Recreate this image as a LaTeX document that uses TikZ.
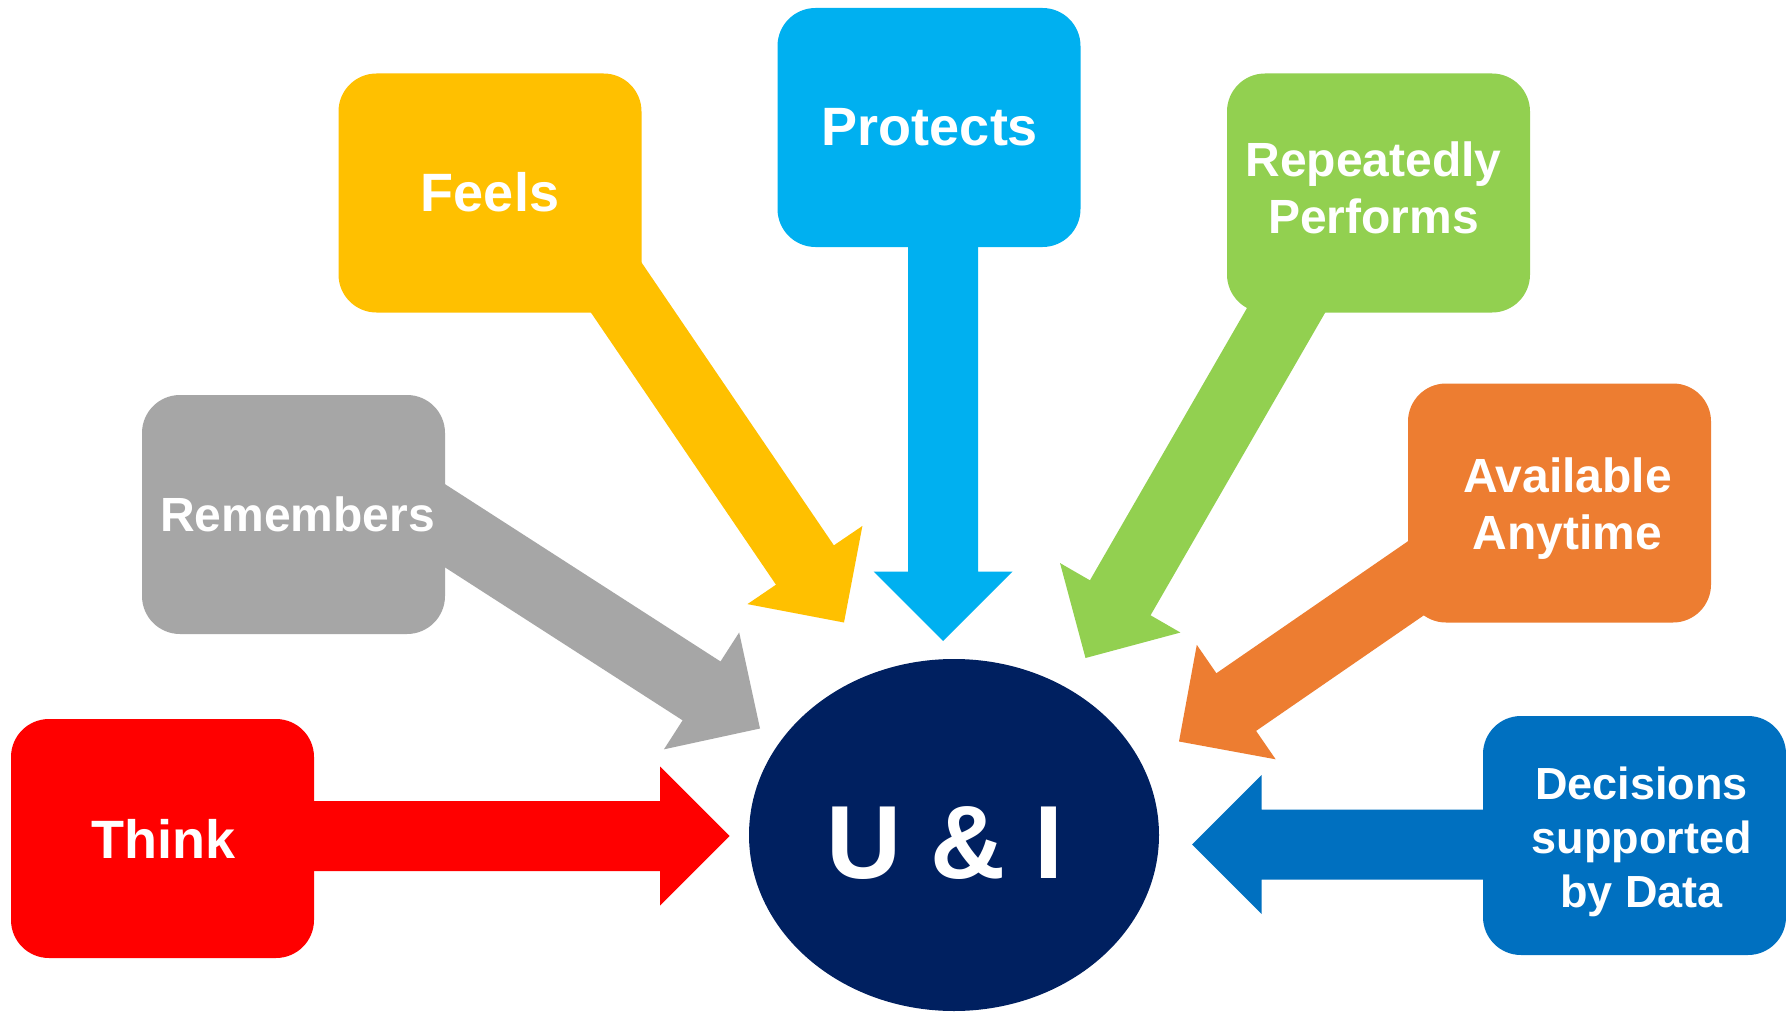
\documentclass[tikz,border=0pt]{standalone}
\usepackage{fontspec}
\setmainfont{Liberation Sans}
\usetikzlibrary{calc,shapes.geometric}
\definecolor{cRed}{HTML}{FF0000}
\definecolor{cGray}{HTML}{A6A6A6}
\definecolor{cYellow}{HTML}{FFC000}
\definecolor{cCyan}{HTML}{00B0F0}
\definecolor{cGreen}{HTML}{92D050}
\definecolor{cOrange}{HTML}{ED7D31}
\definecolor{cBlue}{HTML}{0070C0}
\definecolor{cNavy}{HTML}{002060}
% block arrow from #2 (start) to #3 (tip), colour #1
\newcommand\uiarrow[3]{%
  \coordinate (ah) at ($(#3)!69.5pt!(#2)$);
  \fill[#1] ($(#2)!35pt!90:(#3)$) -- ($(ah)!35pt!90:(#3)$) -- ($(ah)!69.5pt!90:(#3)$)
    -- (#3) -- ($(ah)!69.5pt!-90:(#3)$) -- ($(ah)!35pt!-90:(#3)$) -- ($(#2)!35pt!-90:(#3)$) -- cycle;}
\begin{document}
\begin{tikzpicture}[x=1pt,y=-1pt,
  box/.style={rounded corners=38pt, minimum width=303pt, minimum height=239pt,
    inner sep=0pt},
  lbl/.style={inner sep=0pt, text=white, align=center},
  bigtxt/.style={font={\bfseries\fontsize{54}{60}\selectfont}},
  midtxt/.style={font={\bfseries\fontsize{48}{57}\selectfont}},
  smalltxt/.style={font={\bfseries\fontsize{45}{54}\selectfont}},
  hub/.style={ellipse, fill=cNavy, minimum width=410pt, minimum height=352pt,
    inner sep=0pt}]
\useasboundingbox (0,0) rectangle (1786,1014);
\fill[white] (0,0) rectangle (1786,1014);

% arrow ends
\coordinate (thinkS) at (200,836);     \coordinate (thinkT) at (729.5,836);
\coordinate (remS) at (361,471.7);     \coordinate (remT) at (760,728.5);
\coordinate (feelS) at (557.4,201);    \coordinate (feelT) at (844,622.5);
\coordinate (protS) at (943,150);      \coordinate (protT) at (943,641);
\coordinate (repS) at (1310.5,268);    \coordinate (repT) at (1085.5,658);
\coordinate (availS) at (1551.4,484.9);\coordinate (availT) at (1179,741.5);
\coordinate (decS) at (1600,844.5);    \coordinate (decT) at (1192,844.5);

% arrows
\uiarrow{cRed}{thinkS}{thinkT}
\uiarrow{cGray}{remS}{remT}
\uiarrow{cYellow}{feelS}{feelT}
\uiarrow{cCyan}{protS}{protT}
\uiarrow{cGreen}{repS}{repT}
\uiarrow{cOrange}{availS}{availT}
\uiarrow{cBlue}{decS}{decT}

% boxes
\node[box, fill=cRed] (think) at (162.5,838.5) {};
\node[box, fill=cGray] (rem) at (293.5,514.5) {};
\node[box, fill=cYellow] (feel) at (490,193) {};
\node[box, fill=cCyan] (prot) at (929,127.5) {};
\node[box, fill=cGreen] (rep) at (1378.5,193) {};
\node[box, fill=cOrange] (avail) at (1559.5,503) {};
\node[box, fill=cBlue] (dec) at (1634.5,835.5) {};

% hub
\node[hub] (ui) at (954,835) {};

% texts
\node[lbl, bigtxt] (thinkL) at ($(think.center)+(1,0)$) {Think};
\node[lbl, midtxt] (remL) at ($(rem.center)+(4,0)$) {Remembers};
\node[lbl, bigtxt] (feelL) at ($(feel.center)+(0,-1)$) {Feels};
\node[lbl, bigtxt] (protL) at ($(prot.center)+(1,0)$) {Protects};
\node[lbl, midtxt] (repL) at ($(rep.center)+(-5,-5)$) {Repeatedly\\Performs};
\node[lbl, midtxt] (availL) at ($(avail.center)+(8,6)$) {Available\\Anytime};
\node[lbl, smalltxt] (decL) at ($(dec.center)+(7,6)$) {Decisions\\supported\\by Data};
\node[lbl, font={\bfseries\fontsize{104}{110}\selectfont}] (uiL) at ($(ui.center)+(-9,8)$) {U \& I};
\end{tikzpicture}
\end{document}
